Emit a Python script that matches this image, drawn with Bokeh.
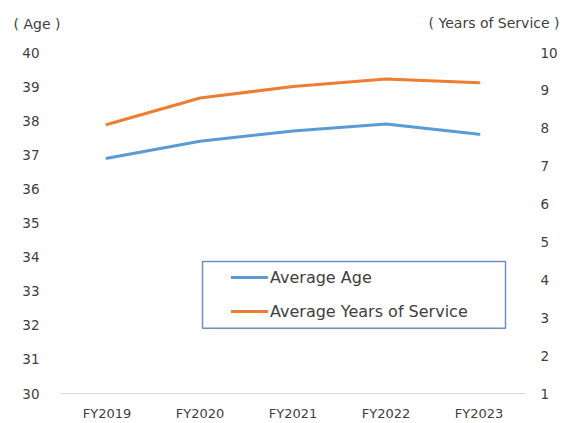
from bokeh.plotting import figure
from bokeh.layouts import column
from bokeh.models import (Range1d, LinearAxis, FixedTicker, Legend, LegendItem,
                          BoxAnnotation, Label, ColumnDataSource)
from bokeh.embed import file_html
from bokeh.resources import INLINE

# Fiscal years and the two series
years = ["FY2019", "FY2020", "FY2021", "FY2022", "FY2023"]
average_age = [36.9, 37.4, 37.7, 37.9, 37.6]
average_service = [8.1, 8.8, 9.1, 9.3, 9.2]

age_ticks = list(range(30, 41))
service_ticks = list(range(1, 11))

FONT = "DejaVu Sans"
TEXT = "#404040"
BLUE = "#5B9BD5"
ORANGE = "#ED7D31"
W = 563
CAP_H = 36

# --- strip holding the unit captions of both scales ---
cap = figure(width=W, height=CAP_H, x_range=Range1d(0, W), y_range=Range1d(0, CAP_H),
             x_axis_location=None, y_axis_location=None,
             output_backend="svg", toolbar_location=None,
             min_border=0, min_border_left=0, min_border_right=0,
             min_border_top=0, min_border_bottom=0)
cap.frame_align = False
cap.outline_line_color = None
cap.xgrid.grid_line_color = None
cap.ygrid.grid_line_color = None
cap.add_layout(Label(x=13, y=13, text="( Age )", text_font=FONT,
                     text_font_size="14px", text_color=TEXT,
                     text_align="left", text_baseline="middle"))
cap.add_layout(Label(x=559, y=14, text="( Years of Service )", text_font=FONT,
                     text_font_size="14px", text_color=TEXT,
                     text_align="right", text_baseline="middle"))

# --- main chart ---
src = ColumnDataSource(dict(year=years, age=average_age, service=average_service))

p = figure(width=W, height=423 - CAP_H, x_range=years, y_range=Range1d(30, 40),
           output_backend="svg", toolbar_location=None,
           min_border_left=60, min_border_right=38,
           min_border_top=52 - CAP_H, min_border_bottom=30)
p.frame_align = False
p.outline_line_color = None
p.xgrid.grid_line_color = None
p.ygrid.grid_line_color = None
p.background_fill_color = "white"
p.border_fill_color = "white"

# Secondary scale for years of service
p.extra_y_ranges = {"service": Range1d(1, 10)}

# Left (age) axis
ay = p.yaxis[0]
ay.ticker = FixedTicker(ticks=age_ticks)
ay.axis_line_color = None
ay.major_tick_line_color = None
ay.minor_tick_line_color = None
ay.major_tick_out = 0
ay.major_label_standoff = 21
ay.major_label_text_font = FONT
ay.major_label_text_font_size = "13.5px"
ay.major_label_text_color = TEXT

# Right (service) axis
ry = LinearAxis(y_range_name="service", ticker=FixedTicker(ticks=service_ticks))
ry.axis_line_color = None
ry.major_tick_line_color = None
ry.minor_tick_line_color = None
ry.major_tick_out = 0
ry.major_label_standoff = 15
ry.major_label_text_font = FONT
ry.major_label_text_font_size = "13.5px"
ry.major_label_text_color = TEXT
p.add_layout(ry, "right")

# Category axis
ax = p.xaxis[0]
ax.axis_line_color = "#D9D9D9"
ax.axis_line_width = 1
ax.major_tick_line_color = None
ax.minor_tick_line_color = None
ax.major_tick_out = 0
ax.major_label_standoff = 12
ax.major_label_text_font = FONT
ax.major_label_text_font_size = "13px"
ax.major_label_text_color = TEXT

r_age = p.line("year", "age", source=src, line_color=BLUE, line_width=3,
               line_join="round", line_cap="round")
r_srv = p.line("year", "service", source=src, y_range_name="service",
               line_color=ORANGE, line_width=3, line_join="round", line_cap="round")

# Legend frame
p.add_layout(BoxAnnotation(left=1.527, right=4.785, top=33.87, bottom=31.91,
                           fill_color="white", fill_alpha=1.0,
                           line_color="#6B8FC0", line_alpha=1.0, line_width=1.5,
                           level="overlay"))

legend = Legend(items=[LegendItem(label="Average Age", renderers=[r_age]),
                       LegendItem(label="Average Years of Service", renderers=[r_srv])],
                location=(171, 72), orientation="vertical",
                padding=0, margin=0, spacing=14,
                label_height=20, glyph_height=20, glyph_width=37,
                label_standoff=2,
                label_text_font=FONT, label_text_font_size="16px",
                label_text_color=TEXT,
                border_line_alpha=0, background_fill_alpha=0)
p.add_layout(legend, "center")

layout = column(cap, p, spacing=0)
open("out.html", "w").write(file_html(layout, INLINE))
